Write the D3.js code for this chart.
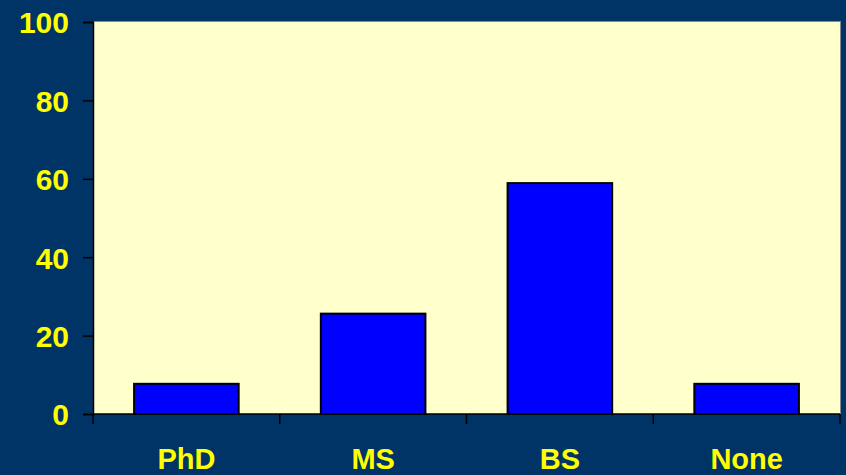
<!DOCTYPE html>
<html>
<head>
<meta charset="utf-8">
<script src="https://cdn.jsdelivr.net/npm/d3@7"></script>
<style>
  html, body { margin: 0; padding: 0; background: #003366; }
  svg { display: block; }
</style>
</head>
<body>
<svg id="chart" width="846" height="475"></svg>
<script>
// Share of respondents by highest degree (percent)
const categories = ["PhD", "MS", "BS", "None"];
const values = [7.7, 25.6, 58.9, 7.7];
const yTicks = [0, 20, 40, 60, 80, 100];

const W = 846, H = 475;
const margin = { left: 93, right: 6, top: 22, bottom: 61 };
const plotW = W - margin.left - margin.right;
const plotH = H - margin.top - margin.bottom;

const svg = d3.select("#chart");
svg.append("rect").attr("width", W).attr("height", H).attr("fill", "#003366");

const g = svg.append("g").attr("transform", `translate(${margin.left},${margin.top})`);

const x = d3.scaleBand().domain(categories).range([0, plotW]).paddingInner(0.44).paddingOuter(0.22);
const xOuter = d3.scaleBand().domain(categories).range([0, plotW]);
const y = d3.scaleLinear().domain([0, 100]).range([plotH, 0]);

// plot area with a soft grey edge on top and right
g.append("rect")
  .attr("x", 1).attr("y", -1)
  .attr("width", plotW).attr("height", plotH + 1)
  .attr("fill", "#7f8a92");
g.append("rect")
  .attr("x", 0).attr("y", 0)
  .attr("width", plotW).attr("height", plotH)
  .attr("fill", "#FFFFCC");

// bars
g.selectAll("rect.bar")
  .data(categories.map((c, i) => ({ c, v: values[i] })))
  .join("rect")
  .attr("class", "bar")
  .attr("x", d => x(d.c))
  .attr("width", x.bandwidth())
  .attr("y", d => y(d.v))
  .attr("height", d => y(0) - y(d.v))
  .attr("fill", "#0000FF")
  .attr("stroke", "#000")
  .attr("stroke-width", 2);

// y axis
const yAxis = g.append("g")
  .call(d3.axisLeft(y).tickValues(yTicks).tickSize(10).tickPadding(14));
yAxis.select(".domain").attr("stroke", "#000").attr("stroke-width", 1.5);
yAxis.selectAll(".tick line").attr("stroke", "#000").attr("stroke-width", 1.5);
yAxis.selectAll(".tick text")
  .attr("fill", "#FFFF00")
  .attr("font-family", "'Liberation Sans', Arial, sans-serif")
  .attr("font-weight", "bold")
  .attr("font-size", 30)
  .attr("dy", "0.36em");

// x axis: ticks on category boundaries, labels centered under bars
const boundaries = categories.map(c => xOuter(c)).concat([plotW]);
const xAxisG = g.append("g").attr("transform", `translate(0,${plotH})`);
xAxisG.append("line")
  .attr("x1", 0).attr("x2", plotW)
  .attr("stroke", "#000").attr("stroke-width", 1.5);
xAxisG.selectAll("line.tk")
  .data(boundaries)
  .join("line")
  .attr("class", "tk")
  .attr("x1", d => d).attr("x2", d => d)
  .attr("y1", 0).attr("y2", 10)
  .attr("stroke", "#000").attr("stroke-width", 1.5);
xAxisG.selectAll("text")
  .data(categories)
  .join("text")
  .attr("x", d => xOuter(d) + xOuter.bandwidth() / 2)
  .attr("y", 55)
  .attr("text-anchor", "middle")
  .attr("fill", "#FFFF00")
  .attr("font-family", "'Liberation Sans', Arial, sans-serif")
  .attr("font-weight", "bold")
  .attr("font-size", 29)
  .text(d => d);
</script>
</body>
</html>
